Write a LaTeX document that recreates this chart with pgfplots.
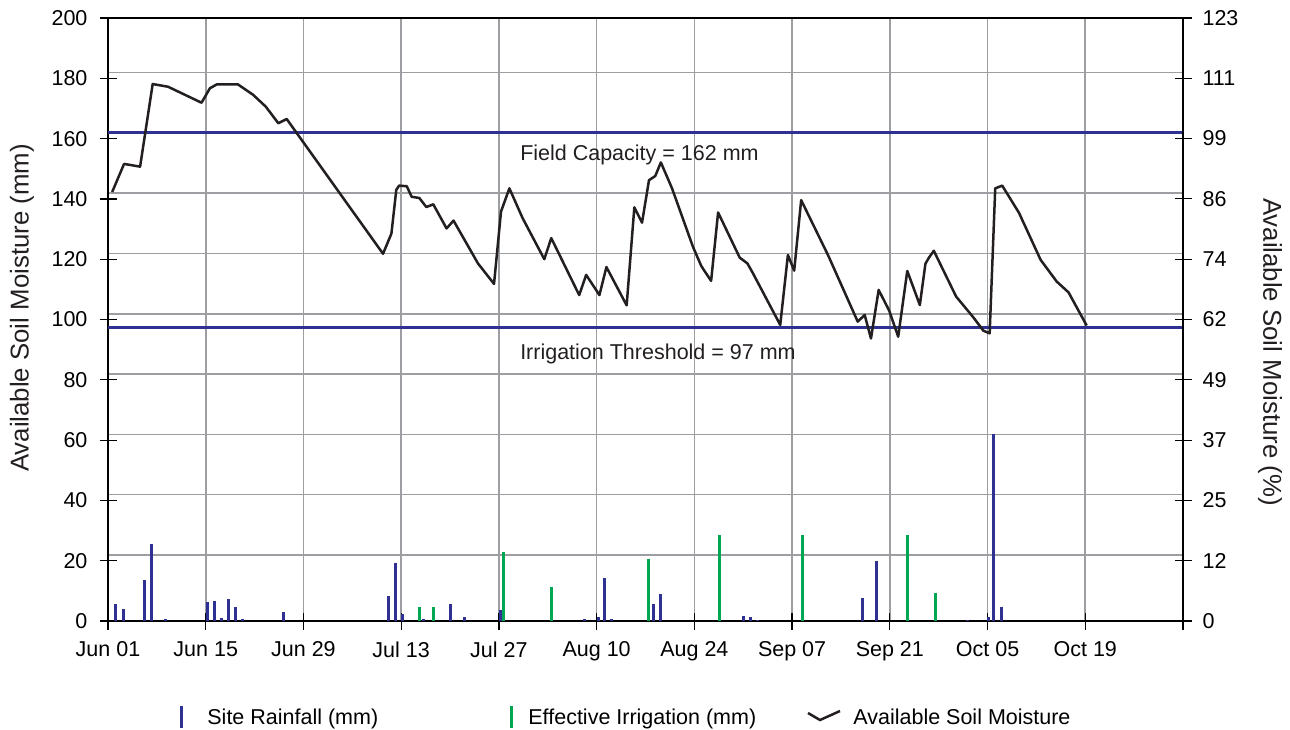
\documentclass[border=0pt]{standalone}
\usepackage{pgfplots}
\pgfplotsset{compat=1.18}
\usepackage{fontspec}
\setmainfont{Liberation Sans}
\definecolor{rainblue}{HTML}{2E3192}
\definecolor{irrgreen}{HTML}{00A651}
\definecolor{smline}{HTML}{231F20}
\definecolor{gridgray}{HTML}{9C9EA1}
\begin{document}
\begin{tikzpicture}[font=\fontsize{10.75}{13}\selectfont]
\useasboundingbox (0,0) rectangle (645pt,364.5pt);
% horizontal grid lines (slightly above the tick marks, as in the original)
\draw[gridgray, line width=0.85pt] (54pt,87pt) -- (591.5pt,87pt);
\draw[gridgray, line width=0.85pt] (54pt,117.2pt) -- (591.5pt,117.2pt);
\draw[gridgray, line width=0.85pt] (54pt,147.3pt) -- (591.5pt,147.3pt);
\draw[gridgray, line width=0.85pt] (54pt,177.5pt) -- (591.5pt,177.5pt);
\draw[gridgray, line width=0.85pt] (54pt,207.6pt) -- (591.5pt,207.6pt);
\draw[gridgray, line width=0.85pt] (54pt,237.8pt) -- (591.5pt,237.8pt);
\draw[gridgray, line width=0.85pt] (54pt,267.9pt) -- (591.5pt,267.9pt);
\draw[gridgray, line width=0.85pt] (54pt,298.1pt) -- (591.5pt,298.1pt);
\draw[gridgray, line width=0.85pt] (54pt,328.2pt) -- (591.5pt,328.2pt);
\begin{axis}[
  at={(54pt,54pt)}, anchor=south west,
  width=537.5pt, height=301.5pt, scale only axis,
  xmin=0, xmax=154, ymin=0, ymax=200,
  /pgf/number format/assume math mode=true,
  xtick={0,14,28,42,56,70,84,98,112,126,140,154},
  xticklabels={Jun 01,Jun 15,Jun 29,Jul 13,Jul 27,Aug 10,Aug 24,Sep 07,Sep 21,Oct 05,Oct 19,},
  ytick={0,20,...,200},
  xtick pos=bottom, ytick pos=left,
  xmajorgrids, ymajorgrids=false,
  grid style={gridgray, line width=0.85pt},
  tick align=center, major tick length=8.5pt,
  tick style={black, line width=0.6pt},
  axis line style={black, line width=0.6pt},
  yticklabel style={xshift=-2.5pt},
  xticklabel style={yshift=-2.5pt},
  clip=false,
]
% reference lines
\addplot[rainblue, line width=1.5pt] coordinates {(0,162) (154,162)};
\addplot[rainblue, line width=1.5pt] coordinates {(0,97.3) (154,97.3)};
% rainfall
\addplot[ycomb, rainblue, line width=1.5pt, mark=none] coordinates {
(1.1,5.8) (2.2,4.0) (5.2,13.6) (6.2,25.5) (8.2,0.6) (14.2,6.3) (15.2,6.6)
(16.2,0.9) (17.2,7.3) (18.2,4.7) (19.2,0.6) (25.2,3.1) (40.2,8.4) (41.2,19.1)
(42.2,2.4) (45.2,0.6) (49.1,5.8) (51.1,1.2) (56.2,3.8) (68.2,0.6) (70.2,1.2)
(71.1,14.1) (72.1,0.6) (78.1,5.8) (79.1,9.0) (91.1,1.7) (92.1,1.4) (93.1,0.3)
(108.1,7.7) (110.1,20.0) (123.1,0.3) (126.1,1.4) (126.9,61.9) (128.0,4.7)
};
% irrigation
\addplot[ycomb, irrgreen, line width=1.5pt, mark=none] coordinates {
(44.6,4.7) (46.6,4.7) (56.6,22.8) (63.6,11.4) (77.5,20.5) (87.6,28.4)
(99.5,28.4) (114.5,28.4) (118.6,9.2)
};
% soil moisture
\addplot[smline, line width=1.25pt, mark=none, line join=round] coordinates {
(0.6,142.3) (2.3,151.6) (4.6,150.7) (6.4,178.1) (8.6,177.2) (13.4,171.9)
(14.6,176.7) (15.6,178.0) (18.6,178.0) (20.8,174.5) (22.6,170.6) (24.4,165.1)
(25.6,166.5) (39.4,121.8) (40.6,128.5) (41.3,143.0) (41.7,144.4) (42.8,144.2)
(43.5,140.7) (44.6,140.3) (45.6,137.3) (46.6,138.2) (48.5,130.2) (49.5,132.8)
(53.0,118.6) (55.3,111.8) (56.3,135.8) (57.5,143.5) (59.4,133.6) (62.5,120.0)
(63.5,127.0) (67.5,108.1) (68.5,114.8) (70.4,108.1) (71.4,117.4) (74.3,104.7)
(75.4,137.2) (76.5,132.1) (77.5,146.2) (78.4,147.6) (79.2,152.1) (80.8,143.5)
(83.8,124.1) (85.0,117.7) (86.4,112.8) (87.4,135.5) (90.5,120.5) (91.6,118.6)
(92.4,115.3) (96.3,98.2) (97.4,121.4) (98.3,116.2) (99.3,139.6) (103.2,121.1)
(107.4,99.3) (108.4,101.5) (109.3,93.7) (110.4,109.8) (111.9,103.0) (113.2,94.3)
(114.5,116.1) (116.3,104.8) (117.1,118.5) (117.6,120.5) (118.3,122.8) (121.5,107.6)
(123.9,100.9) (125.4,96.3) (126.3,95.4) (127.1,143.5) (128.1,144.4) (130.5,135.4)
(133.6,119.8) (135.9,112.6) (137.6,109.0) (140.2,98.0)
};
\node[anchor=west, inner sep=0pt, text=smline] at (axis cs:59.0,154.6) {Field Capacity = 162 mm};
\node[anchor=west, inner sep=0pt, text=smline] at (axis cs:59.0,88.6) {Irrigation Threshold = 97 mm};
\end{axis}
\begin{axis}[
  at={(54pt,54pt)}, anchor=south west,
  width=537.5pt, height=301.5pt, scale only axis,
  xmin=0, xmax=154, ymin=0, ymax=200,
  axis x line=none, axis y line*=right,
  /pgf/number format/assume math mode=true,
  ytick={0,20,...,200},
  yticklabels={0,12,25,37,49,62,74,86,99,111,123},
  tick align=center, major tick length=8.5pt,
  tick style={black, line width=0.6pt},
  axis line style={black, line width=0.6pt},
  yticklabel style={xshift=2pt},
]
\addplot[draw=none] coordinates {(0,0)};
\end{axis}
% axis titles
\node[rotate=90, font=\fontsize{12.9}{15}\selectfont, text=smline] at (11pt,210.5pt) {Available Soil Moisture (mm)};
\node[rotate=-90, font=\fontsize{12.9}{15}\selectfont, text=smline] at (635pt,188.5pt) {Available Soil Moisture (\%)};
% legend
\draw[rainblue, line width=1.5pt] (90.5pt,0.5pt) -- (90.5pt,11.5pt);
\node[anchor=base west, inner sep=0pt] at (103.5pt,2.3pt) {Site Rainfall (mm)};
\draw[irrgreen, line width=1.5pt] (255.5pt,0.5pt) -- (255.5pt,11.5pt);
\node[anchor=base west, inner sep=0pt] at (264pt,2.3pt) {Effective Irrigation (mm)};
\draw[smline, line width=1.25pt] (404pt,8pt) -- (410pt,4.5pt) -- (420pt,9pt);
\node[anchor=base west, inner sep=0pt] at (426.5pt,2.3pt) {Available Soil Moisture};
\end{tikzpicture}
\end{document}
